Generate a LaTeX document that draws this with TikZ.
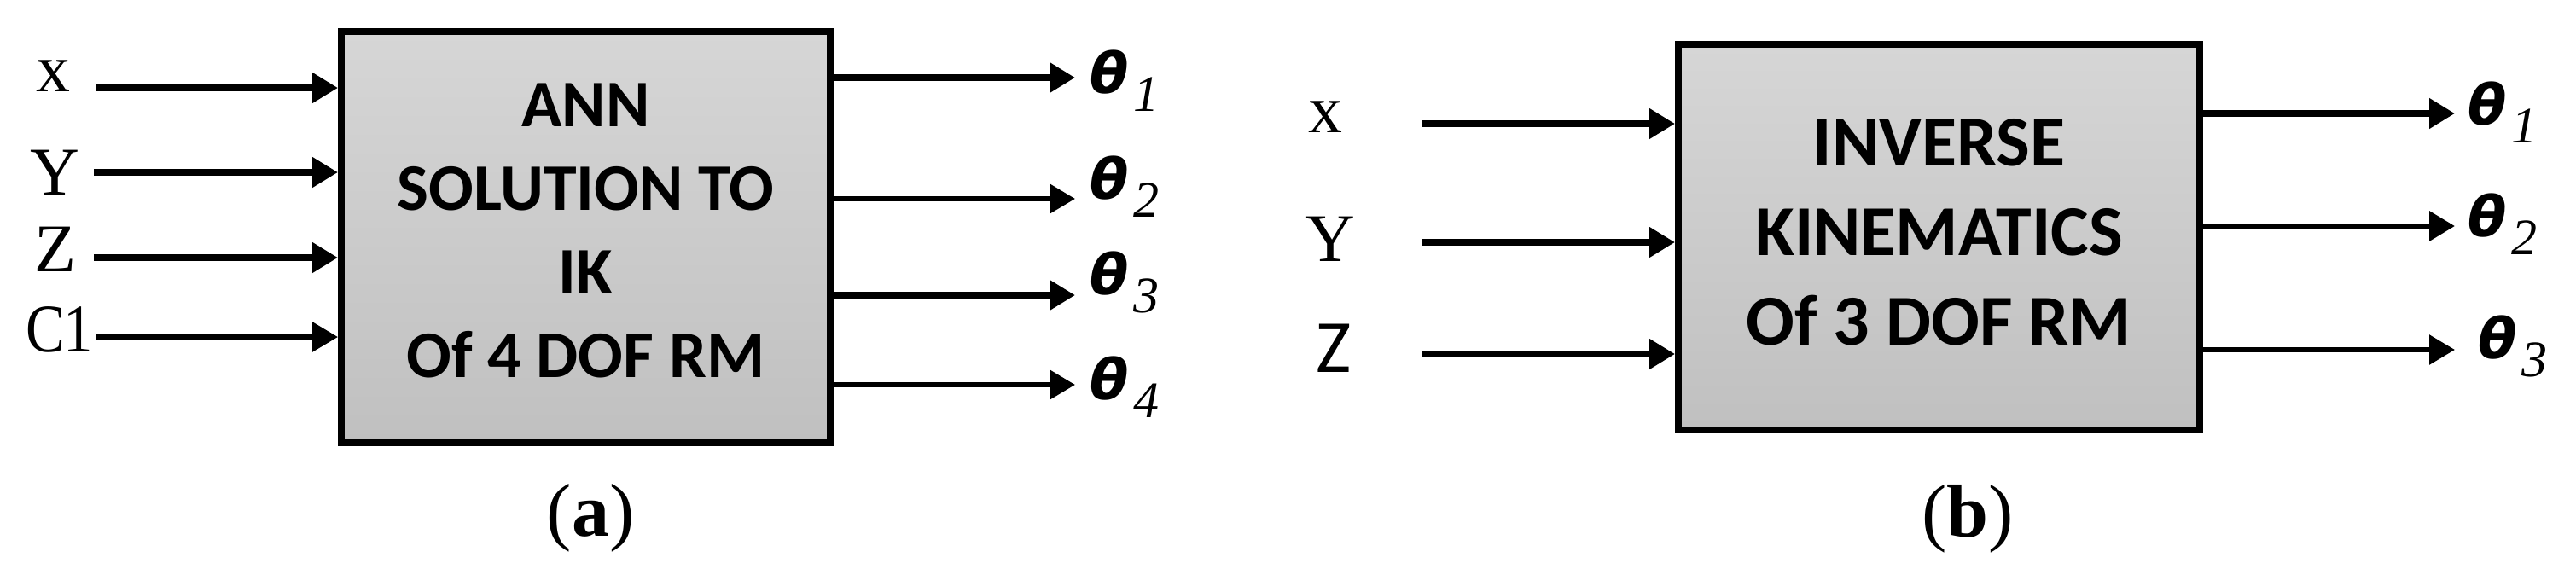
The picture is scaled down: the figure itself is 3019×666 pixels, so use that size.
\documentclass[tikz,border=0pt]{standalone}
\usepackage{fontspec}
\setmainfont{Liberation Serif}
\newfontfamily\calib{Carlito}
\newfontfamily\thsans{DejaVu Sans}
\usetikzlibrary{arrows.meta}
\definecolor{boxtop}{RGB}{214,214,214}
\definecolor{boxbot}{RGB}{192,192,192}
\newcommand\thetalab[1]{\makebox[12.6pt][l]{\thsans\bfseries\itshape\fontsize{16.5}{18}\selectfont θ}\raisebox{-5.25pt}{\fontsize{15}{18}\selectfont\itshape #1}}
\tikzset{
  blockbox/.style={draw=black, line width=2pt, top color=boxtop, bottom color=boxbot, inner sep=0pt},
  blocktext/.style={align=center, inner sep=0pt},
  sig/.style={line width=1.9pt, -{Triangle[length=7.5pt,width=8.5pt]}},
  sigthin/.style={sig, line width=1.45pt},
  inlabel/.style={anchor=base west, inner sep=0pt, font=\fontsize{20}{24}\selectfont},
  outlabel/.style={anchor=base west, inner sep=0pt},
  caption/.style={anchor=base, inner sep=0pt, font=\fontsize{22}{26}\selectfont},
}
\begin{document}
\begin{tikzpicture}[x=0.25pt,y=-0.25pt]
\useasboundingbox[fill=white] (0,0) rectangle (3019,666);

% ---------- panel (a) ----------
\node[blockbox, minimum width=143.25pt, minimum height=120.5pt] (boxA) at (686.5,278) {};
\node[blocktext, font=\calib\bfseries\fontsize{19.5}{24.5}\selectfont] (txtA)
  at ([yshift=2pt]boxA.center) {ANN\\SOLUTION TO\\IK\\Of 4 DOF RM};

\node[inlabel] (ax) at (42,107) {x};
\node[inlabel] (ay) at (35,228) {Y};
\node[inlabel] (az) at (40,318) {Z};
\node[inlabel] (ac) at (30,412) {\scalebox{0.86}[1]{C\kern-0.5pt1}};

\coordinate (ainx) at (113,103);
\coordinate (ainy) at (110,202);
\coordinate (ainz) at (110,302);
\coordinate (ainc) at (113,395);
\draw[sig] (ainx) -- (ainx -| boxA.west);
\draw[sig] (ainy) -- (ainy -| boxA.west);
\draw[sig] (ainz) -- (ainz -| boxA.west);
\draw[sigthin] (ainc) -- (ainc -| boxA.west);

\coordinate (aout1) at (1260,91);
\coordinate (aout2) at (1260,233);
\coordinate (aout3) at (1260,346);
\coordinate (aout4) at (1260,451);
\draw[sig] (aout1 -| boxA.east) -- (aout1);
\draw[sigthin] (aout2 -| boxA.east) -- (aout2);
\draw[sig] (aout3 -| boxA.east) -- (aout3);
\draw[sigthin] (aout4 -| boxA.east) -- (aout4);

\node[outlabel] (at1) at (1277,109) {\thetalab{1}};
\node[outlabel] (at2) at (1277,233) {\thetalab{2}};
\node[outlabel] (at3) at (1277,345) {\thetalab{3}};
\node[outlabel] (at4) at (1277,468) {\thetalab{4}};

\node[caption] (capA) at (692,628) {(\textbf{a})};

% ---------- panel (b) ----------
\node[blockbox, minimum width=152.75pt, minimum height=113pt] (boxB) at (2272.5,278) {};
\node[blocktext, font=\calib\bfseries\fontsize{21}{26.25}\selectfont] (txtB)
  at ([yshift=1.5pt]boxB.center) {INVERSE\\KINEMATICS\\Of 3 DOF RM};

\node[inlabel] (bx) at (1533,155) {x};
\node[inlabel] (by) at (1530,306) {Y};
\node[inlabel, font=\calib\fontsize{22}{26}\selectfont] (bz) at (1542,436) {Z};

\coordinate (binx) at (1667,145);
\coordinate (biny) at (1667,284);
\coordinate (binz) at (1667,415);
\draw[sig] (binx) -- (binx -| boxB.west);
\draw[sig] (biny) -- (biny -| boxB.west);
\draw[sig] (binz) -- (binz -| boxB.west);

\coordinate (bout1) at (2877,133);
\coordinate (bout2) at (2877,265);
\coordinate (bout3) at (2877,410);
\draw[sig] (bout1 -| boxB.east) -- (bout1);
\draw[sig, line width=1.65pt] (bout2 -| boxB.east) -- (bout2);
\draw[sigthin] (bout3 -| boxB.east) -- (bout3);

\node[outlabel] (bt1) at (2892,146) {\thetalab{1}};
\node[outlabel] (bt2) at (2892,277) {\thetalab{2}};
\node[outlabel] (bt3) at (2904,420) {\thetalab{3}};

\node[caption] (capB) at (2306,629) {(\textbf{b})};
\end{tikzpicture}
\end{document}
